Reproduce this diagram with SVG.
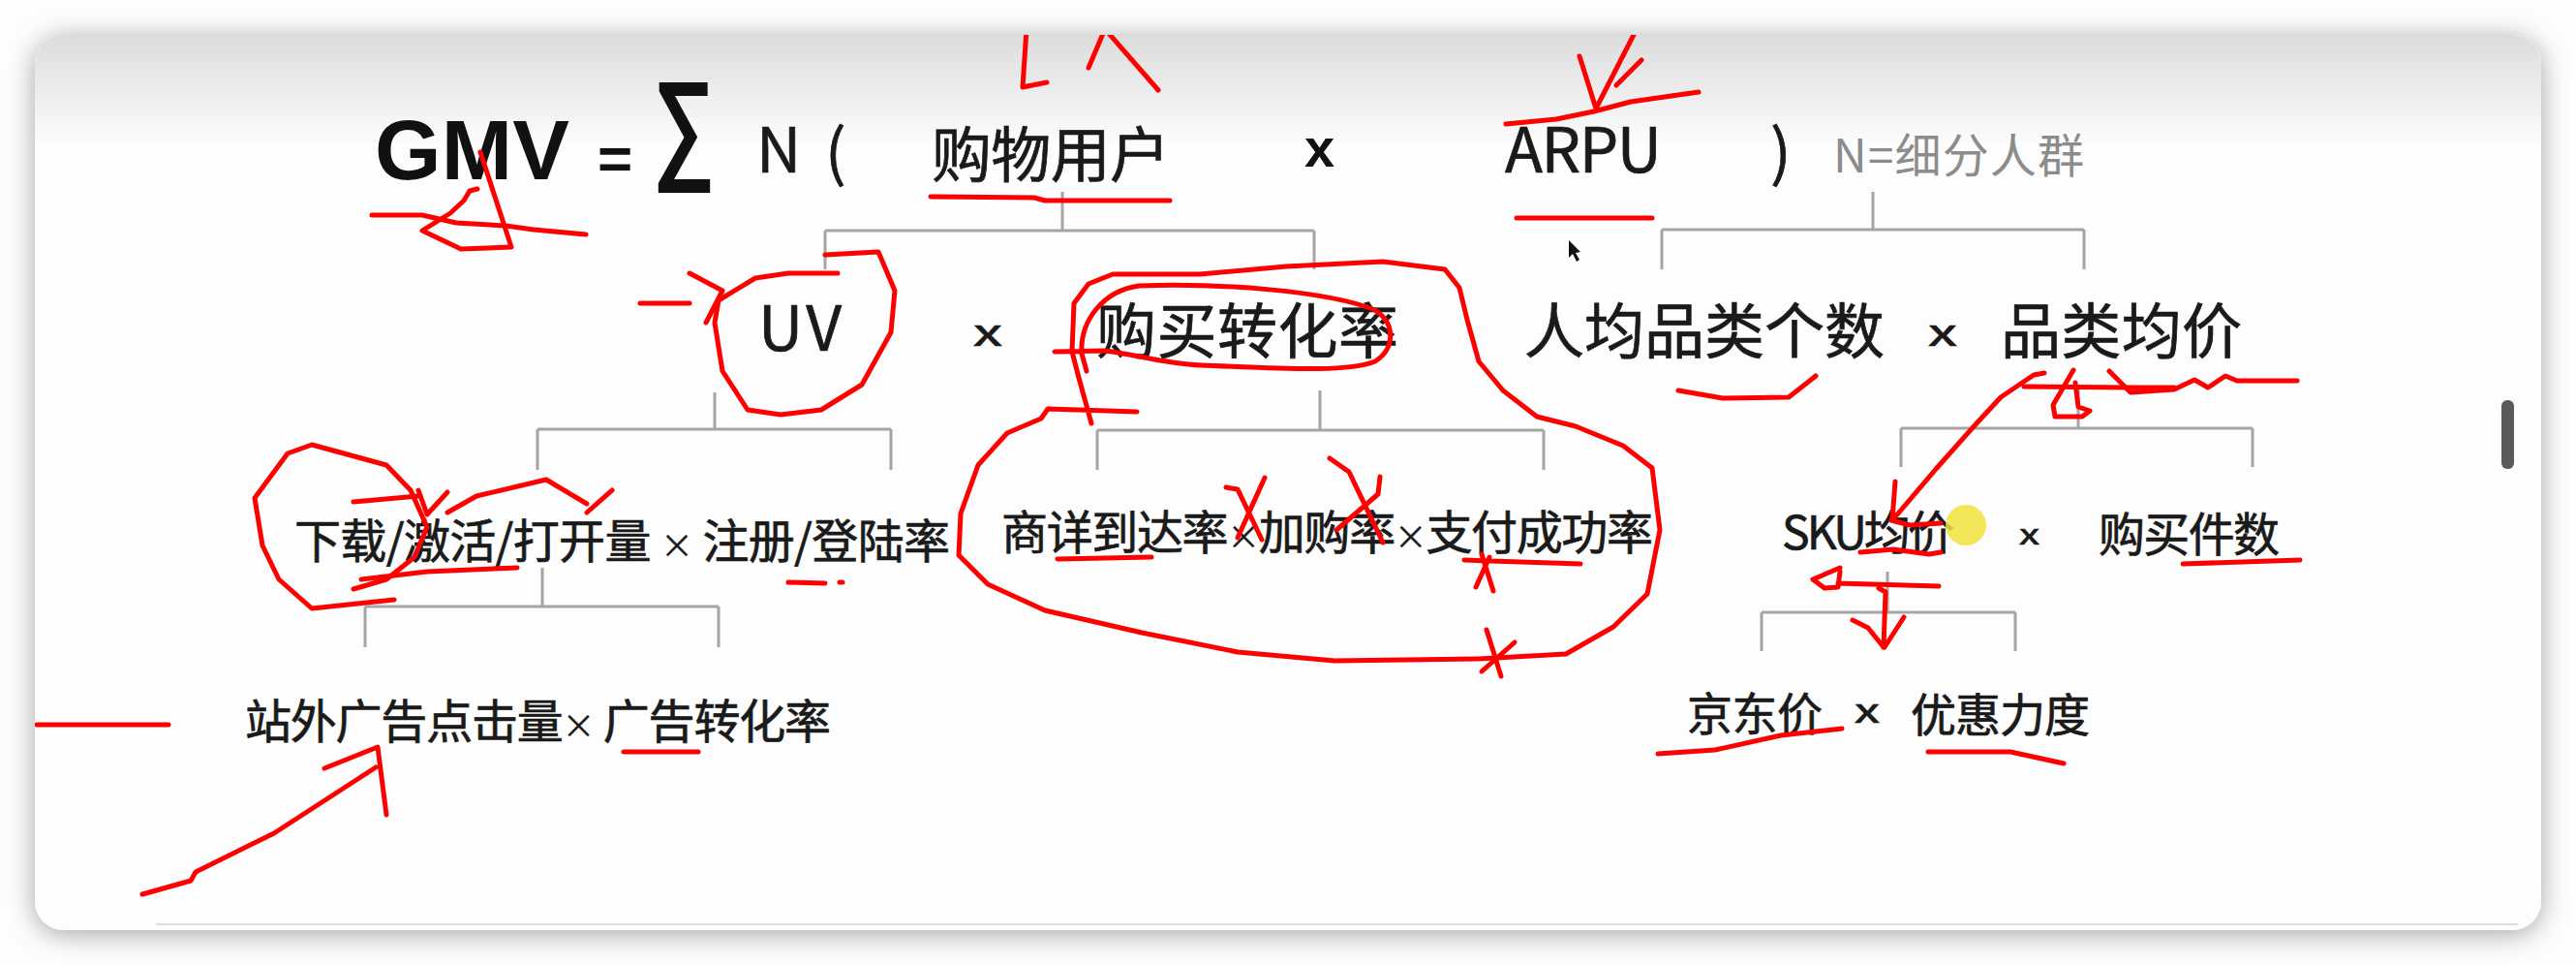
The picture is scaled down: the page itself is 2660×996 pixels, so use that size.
<svg xmlns="http://www.w3.org/2000/svg" width="2660" height="996" viewBox="0 0 2660 996">
<defs>
  <filter id="shadow" x="-5%" y="-10%" width="110%" height="120%">
    <feGaussianBlur in="SourceAlpha" stdDeviation="14"/>
    <feOffset dx="0" dy="4" result="b"/>
    <feComponentTransfer><feFuncA type="linear" slope="0.35"/></feComponentTransfer>
    <feMerge><feMergeNode/><feMergeNode in="SourceGraphic"/></feMerge>
  </filter>
  <linearGradient id="topfade" x1="0" y1="0" x2="0" y2="1">
    <stop offset="0" stop-color="#dcdcdc"/>
    <stop offset="1" stop-color="#fcfcfc"/>
  </linearGradient>
  <clipPath id="cardclip"><rect x="36" y="36" width="2588" height="924" rx="30"/></clipPath>
  <style>
    .t { font-family: "Noto Sans CJK SC", "Noto Sans", sans-serif; fill: #1a1a1a; stroke: #1a1a1a; stroke-width: 0.7; }
    .b { font-family: "Liberation Sans", Arial, sans-serif; font-weight: bold; fill: #111; }
    .g { font-family: "Noto Sans CJK SC", "Noto Sans", sans-serif; fill: #8c8c8c; }
    .m { font-size: 34px; stroke-width: 0.3; }
    .c { fill: none; stroke: #aaa3a3; stroke-width: 3; }
    .r { fill: none; stroke: #ff0000; stroke-width: 5; stroke-linecap: round; stroke-linejoin: round; }
  </style>
</defs>
<rect x="0" y="0" width="2660" height="996" fill="#fdfdfd"/>
<g id="card">
  <rect x="36" y="36" width="2588" height="924" rx="30" fill="#fdfdfd" filter="url(#shadow)"/>
  <rect x="36" y="36" width="2588" height="112" fill="url(#topfade)" clip-path="url(#cardclip)"/>
  <line x1="161" y1="954" x2="2600" y2="954" stroke="#dadde6" stroke-width="2"/>
  <rect x="2583" y="413" width="13" height="71" rx="6" fill="#5a5a5a"/>
</g>

<g id="connectors">
  <path class="c" d="M1097,198 V238 M852,238 H1357 M852,238 V278 M1357,238 V278"/>
  <path class="c" d="M1934,198 V237 M1716,237 H2152 M1716,237 V278 M2152,237 V278"/>
  <path class="c" d="M738,405 V443 M555,443 H920 M555,443 V485 M920,443 V485"/>
  <path class="c" d="M1363,403 V444 M1133,444 H1594 M1133,444 V485 M1594,444 V485"/>
  <path class="c" d="M2146,400 V442 M1963,442 H2326 M1963,442 V482 M2326,442 V482"/>
  <path class="c" d="M560,586 V626 M377,626 H742 M377,626 V668 M742,626 V668"/>
  <path class="c" d="M1949,590 V632 M1819,632 H2081 M1819,632 V672 M2081,632 V672"/>
</g>

<g id="formula">
  <text class="b" x="387" y="185" font-size="88" textLength="201">GMV</text>
  <text class="b" x="617" y="185" font-size="62">=</text>
  <text transform="translate(674,171) scale(0.72,1)" font-size="125" font-weight="bold" font-family="Liberation Sans, sans-serif" fill="#111">∑</text>
  <text class="t" x="781" y="178" font-size="64">N</text>
  <text class="t" x="852" y="180" font-size="64" stroke-width="0.2">(</text>
</g>
<g id="node-shopping-users"><text class="t" x="962" y="183" font-size="62" textLength="246">购物用户</text></g>
<g id="op-times-1"><text class="b" x="1347" y="172" font-size="56">x</text></g>
<g id="node-arpu"><text class="t" x="1554" y="178" font-size="64" textLength="162">ARPU</text></g>
<g id="formula-end">
  <text class="t" x="1828" y="180" font-size="64" stroke-width="0.2">)</text>
  <text class="g" x="1893" y="178" font-size="48" textLength="259">N=细分人群</text>
</g>

<g id="node-uv"><text class="t" x="783" y="362" font-size="64" textLength="86">UV</text></g>
<g id="op-times-2"><text class="t" x="1005" y="357" font-size="38" textLength="30" lengthAdjust="spacingAndGlyphs">x</text></g>
<g id="node-purchase-conversion"><text class="t" x="1132" y="365" font-size="62" textLength="312">购买转化率</text></g>
<g id="node-categories-per-user"><text class="t" x="1574" y="365" font-size="62" textLength="372">人均品类个数</text></g>
<g id="op-times-3"><text class="t" x="1991" y="357" font-size="38" textLength="30" lengthAdjust="spacingAndGlyphs">x</text></g>
<g id="node-category-avg-price"><text class="t" x="2066" y="365" font-size="62" textLength="249">品类均价</text></g>

<g id="node-download-register"><text class="t" x="304" y="576" font-size="48" textLength="677">下载/激活/打开量 <tspan class="m">×</tspan> 注册/登陆率</text></g>
<g id="node-detail-cart-pay"><text class="t" x="1034" y="567" font-size="48" textLength="673">商详到达率<tspan class="m">×</tspan>加购率<tspan class="m">×</tspan>支付成功率</text></g>
<g id="node-sku-avg-price"><text class="t" x="1840" y="567" font-size="48" textLength="178">SKU均价</text></g>
<g id="op-times-4"><text class="t" x="2085" y="562" font-size="30" textLength="21" lengthAdjust="spacingAndGlyphs">x</text></g>
<g id="node-purchase-count"><text class="t" x="2167" y="569" font-size="48" textLength="187">购买件数</text></g>

<g id="node-ad-clicks"><text class="t" x="253" y="762" font-size="48" textLength="605">站外广告点击量<tspan class="m">×</tspan> 广告转化率</text></g>
<g id="node-jd-price"><text class="t" x="1742" y="754" font-size="47" textLength="140">京东价</text></g>
<g id="op-times-5"><text class="t" x="1915" y="746" font-size="34" textLength="26" lengthAdjust="spacingAndGlyphs">x</text></g>
<g id="node-discount"><text class="t" x="1973" y="755" font-size="47" textLength="185">优惠力度</text></g>

<g id="pointer">
  <circle cx="2030" cy="542" r="21" fill="#f2e23c" opacity="0.85"/>
  <path d="M1620,248 L1620,266 L1624,262 L1628,270 L1631,268 L1627,261 L1632,260 Z" fill="#111"/>
</g>

<g id="annotations" clip-path="url(#cardclip)">
  <path class="r" d="M496,157 L528,255 L476,257 L436,238 L465,220 L479,207 L485,197 L493,195"/>
  <path class="r" d="M384,222 L436,222 L471,230 L522,233 L551,237 L605,242"/>
  <path class="r" d="M961,203 L1068,204 L1079,207 L1208,207"/>
  <path class="r" d="M1060,30 L1056,90 L1081,85"/>
  <path class="r" d="M1124,70 L1141,30 L1196,93"/>
  <path class="r" d="M1690,30 L1648,112 M1631,58 L1648,112 M1695,62 L1669,88"/>
  <path class="r" d="M1555,128 L1607,123 L1646,115 L1684,105 L1754,95"/>
  <path class="r" d="M1566,225 L1706,225"/>
  <path class="r" d="M1733,403 L1779,411 L1847,410 L1875,388"/>
  <path class="r" d="M2090,399 L2200,400 L2245,400"/>
  <path class="r" d="M2178,383 L2200,405 L2245,402 L2266,392 L2280,400 L2298,388 L2310,393 L2372,393"/>
  <path class="r" d="M2141,382 L2120,418 L2122,430 L2150,430 L2158,424 L2146,420 L2143,395"/>
  <path class="r" d="M2111,385 L2100,387 L2066,410 L2041,437 L2000,483 L1960,530 L1953,537 L1972,542 L2004,540"/>
  <path class="r" d="M1957,497 L1954,536"/>
  <path class="r" d="M1921,570 L1955,567 L1992,572 L2004,570"/>
  <path class="r" d="M1900,586 L1872,598 L1884,607 L1898,606 L1900,590 M1898,602 L2002,605"/>
  <path class="r" d="M1940,607 L1947,611 L1945,668 M1913,640 L1929,648 L1945,668 M1966,637 L1946,668"/>
  <path class="r" d="M2254,582 L2375,578"/>
  <path class="r" d="M1712,778 L1771,774 L1839,759 L1902,752"/>
  <path class="r" d="M1991,776 L2076,776 L2131,788"/>
  <path class="r" d="M852,263 L907,260 L924,300 L920,343 L890,397 L848,423 L806,428 L772,423 L746,383 L738,333 L742,310 L780,287 L814,282 L865,282"/>
  <path class="r" d="M661,313 L712,313"/>
  <path class="r" d="M712,282 L746,300 L729,333"/>
  <path class="r" d="M1122,383 L1117,365 C1115,330 1140,300 1176,295 C1260,292 1370,300 1420,320 C1442,335 1440,360 1420,373 C1390,385 1320,380 1240,377 C1200,375 1170,365 1140,362 L1089,363"/>
  <path class="r" d="M1127,437 L1114,390 L1107,363 L1109,313 L1124,293 L1149,283 L1239,283 L1328,275 L1428,270 L1492,278 L1507,297 L1515,330 L1527,373 L1552,403 L1587,430 L1627,440 L1676,460 L1706,483 L1714,547 L1701,613 L1666,647 L1617,675 L1527,680 L1378,682 L1278,673 L1179,653 L1079,630 L1020,603 L990,573 L992,530 L1010,480 L1040,447 L1075,432 L1082,422 L1174,425"/>
  <path class="r" d="M1092,577 L1189,575"/>
  <path class="r" d="M1266,503 L1278,505 L1303,557 M1306,493 L1278,555"/>
  <path class="r" d="M1373,473 L1393,487 L1428,560 M1425,492 L1423,510 L1380,547"/>
  <path class="r" d="M1512,578 L1632,582 M1530,572 L1542,610 M1524,606 L1538,575"/>
  <path class="r" d="M1535,650 L1550,698 M1530,693 L1564,663"/>
  <path class="r" d="M365,608 L399,598 L428,575 L441,544 L424,506 L399,480 L322,459 L297,468 L263,514 L271,563 L288,598 L322,628 L407,619"/>
  <path class="r" d="M365,518 L432,512"/>
  <path class="r" d="M432,506 L441,531 L462,508"/>
  <path class="r" d="M462,529 L492,512 L564,495 L606,520"/>
  <path class="r" d="M606,529 L632,506"/>
  <path class="r" d="M373,598 L441,590 L534,586"/>
  <path class="r" d="M814,601 L852,602 M867,601 L870,601"/>
  <path class="r" d="M38,748 L174,748"/>
  <path class="r" d="M644,776 L721,776"/>
  <path class="r" d="M147,923 L197,909 L202,900 L283,860 L388,792 M335,793 L390,771 L399,841"/>
</g>
</svg>
